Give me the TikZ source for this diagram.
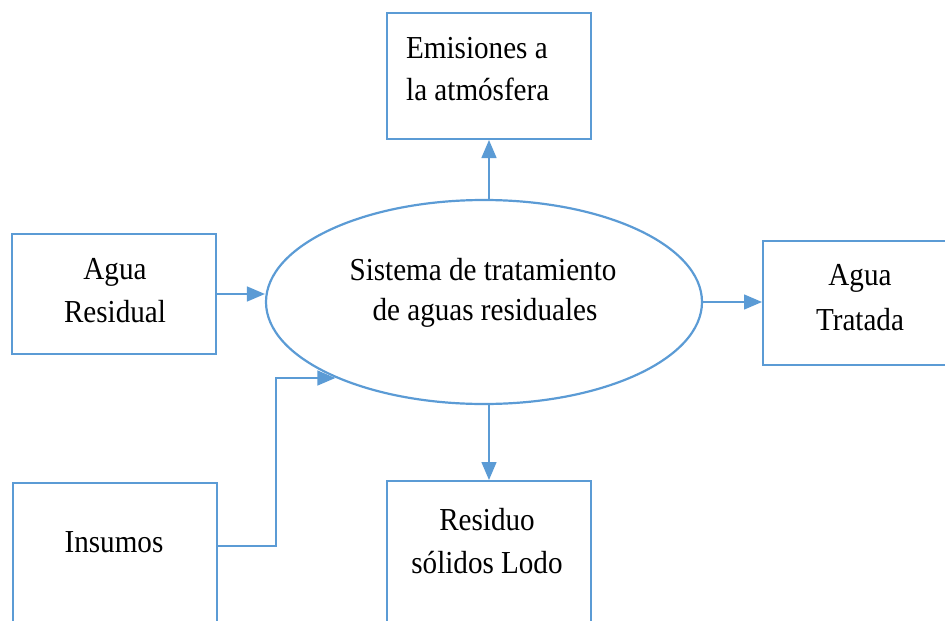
\documentclass[tikz,border=0pt]{standalone}
\usepackage{fontspec}
\setmainfont[FakeStretch=0.91]{Liberation Serif}
\usetikzlibrary{shapes.geometric,arrows.meta}
\definecolor{lineblue}{HTML}{5B9BD5}
\tikzset{
  boxnode/.style={draw=lineblue, line width=2pt, rectangle, inner sep=0pt},
  sysnode/.style={draw=lineblue, line width=2.2pt, ellipse, inner sep=0pt,
                  minimum width=436pt, minimum height=204pt},
  conn/.style={draw=lineblue, line width=1.4pt, -{Triangle[length=18pt,width=15pt]}},
  txt/.style={inner sep=0pt, font=\fontsize{32}{43}\selectfont, text=black}
}
\begin{document}
\begin{tikzpicture}[x=1pt,y=-1pt]
\useasboundingbox (0,0) rectangle (945,621);
\clip (0,0) rectangle (945,621);
% boxes
\node[boxnode, minimum width=204pt, minimum height=126pt] (emi) at (489,76) {};
\node[boxnode, minimum width=204pt, minimum height=120pt] (res) at (114,294) {};
\node[boxnode, minimum width=204pt, minimum height=124pt] (tra) at (865,303) {};
\node[boxnode, minimum width=204pt, minimum height=160pt] (ins) at (115,563) {};
\node[boxnode, minimum width=204pt, minimum height=160pt] (lod) at (489,561) {};
\node[sysnode] (sys) at (484,302) {};
% texts
\node[txt, anchor=base west] (emi1) at (406,58) {Emisiones a};
\node[txt, anchor=base west] (emi2) at (406,100) {la atmósfera};
\node[txt, anchor=base] (res1) at (115,279) {Agua};
\node[txt, anchor=base] (res2) at (115,322) {Residual};
\node[txt, anchor=base] (tra1) at (860,285) {Agua};
\node[txt, anchor=base] (tra2) at (860,330) {Tratada};
\node[txt, anchor=base] (ins1) at (114,552) {Insumos};
\node[txt, anchor=base] (lod1) at (487,530) {Residuo};
\node[txt, anchor=base] (lod2) at (487,573) {sólidos Lodo};
\node[txt, anchor=base] (sys1) at (483,280) {Sistema de tratamiento};
\node[txt, anchor=base] (sys2) at (485,320) {de aguas residuales};
% connectors
\coordinate (insy) at (0,546);
\coordinate (kA) at (276,546);
\coordinate (kB) at (276,378);
\draw[conn] (emi.south |- sys.north) -- (emi.south);
\draw[conn] (lod.north |- sys.south) -- (lod.north);
\draw[conn] (res.east) -- (res.east -| sys.west);
\draw[conn] (sys.east) -- (sys.east -| tra.west);
\draw[conn] (ins.east |- insy) -- (kA) -- (kB) -- (kB -| sys.207.6);
\end{tikzpicture}
\end{document}
